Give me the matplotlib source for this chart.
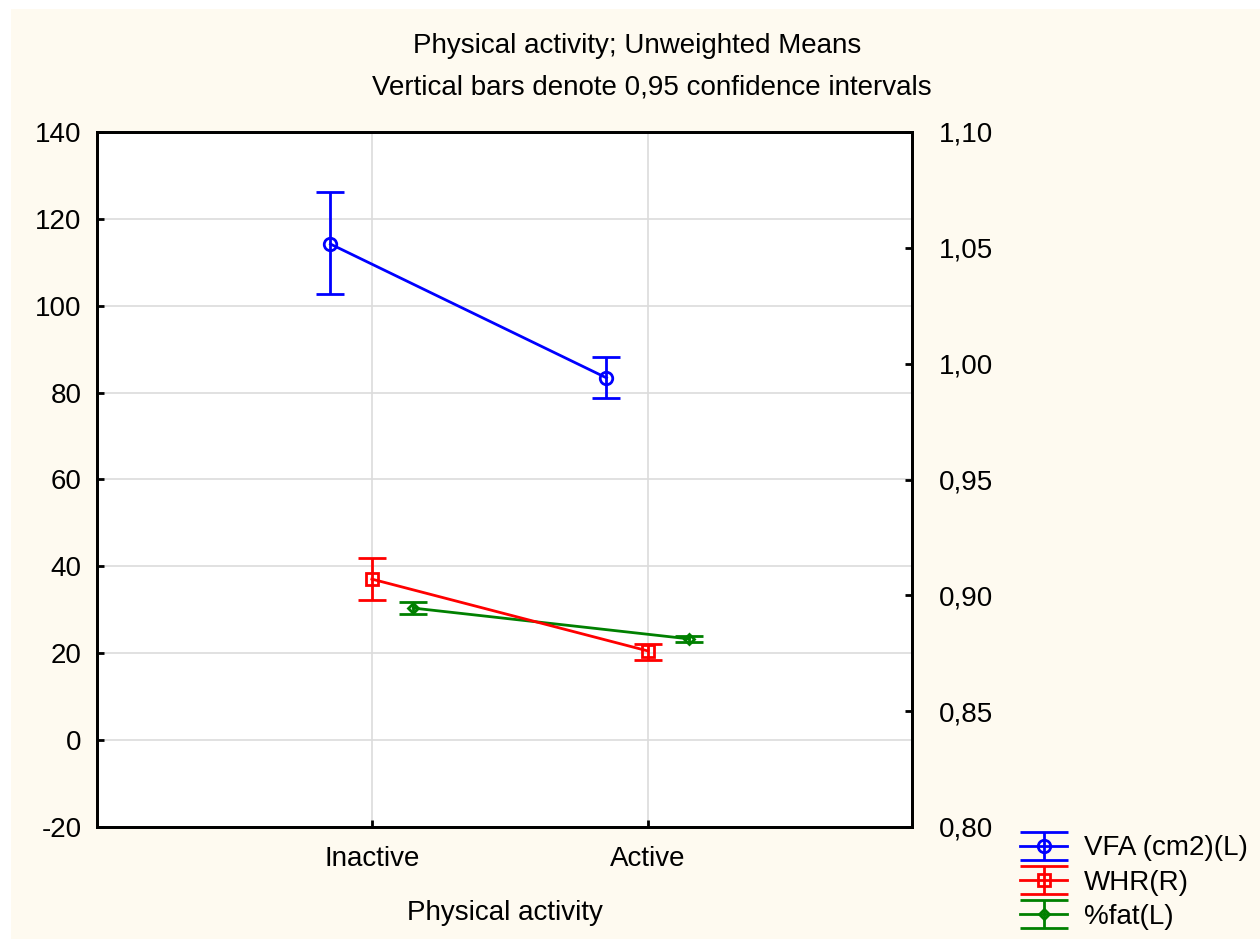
import matplotlib
matplotlib.use("Agg")
from matplotlib import pyplot as plt
from matplotlib.patches import Rectangle
from matplotlib.lines import Line2D
import numpy as np

plt.rcParams['font.family'] = ['Liberation Sans', 'DejaVu Sans']

categories = ['Inactive', 'Active']

vfa_mean = [114.2, 83.4]
vfa_low = [102.7, 78.8]
vfa_high = [126.2, 88.2]

whr_mean = [0.907, 0.876]
whr_low = [0.898, 0.872]
whr_high = [0.916, 0.879]

fat_mean = [30.4, 23.3]
fat_low = [29.0, 22.6]
fat_high = [31.8, 24.0]

left_ticks = [-20, 0, 20, 40, 60, 80, 100, 120, 140]
right_ticks = [0.80, 0.85, 0.90, 0.95, 1.00, 1.05, 1.10]

bg = '#FEFAF0'
fig = plt.figure(figsize=(12.6, 9.39), dpi=100, facecolor='white')
fig.patches.append(Rectangle((11 / 1260, 0), 1, 1 - 9 / 939, transform=fig.transFigure,
                             facecolor=bg, edgecolor='none', zorder=-10))

ax = fig.add_axes([97 / 1260, 1 - 827 / 939, (912 - 97) / 1260, (827 - 132) / 939])
ax.set_facecolor('white')
ax2 = ax.twinx()

x = np.arange(len(categories))
fs = 20

def draw(a, xs, mean, low, high, color, marker, label, ms):
    mean = np.array(mean)
    err = [mean - np.array(low), np.array(high) - mean]
    return a.errorbar(xs, mean, yerr=err, color=color, marker=marker, ms=ms, mfc='none',
                      mew=2, lw=2, elinewidth=2, capsize=10, capthick=2, label=label,
                      clip_on=False)

h1 = draw(ax, x - 0.15, vfa_mean, vfa_low, vfa_high, '#0000FF', 'o', 'VFA (cm2)(L)', 9)
h3 = draw(ax, x + 0.15, fat_mean, fat_low, fat_high, '#008000', 'D', '%fat(L)', 5)
h2 = draw(ax2, x, whr_mean, whr_low, whr_high, '#FF0000', 's', 'WHR(R)', 8)

ax.set_xlim(-0.996, 1.957)
ax.set_ylim(-20, 140)
ax2.set_ylim(0.80, 1.10)
ax.set_xticks(x)
ax.set_xticklabels(categories)
ax.set_yticks(left_ticks)
ax.set_yticklabels([str(t) for t in left_ticks])
ax2.set_yticks(right_ticks)
ax2.set_yticklabels([f'{t:.2f}'.replace('.', ',') for t in right_ticks])

ax.grid(True, color='#DCDCDC', lw=1.2)
ax.set_axisbelow(True)
for a in (ax, ax2):
    for s in a.spines.values():
        s.set_linewidth(2)
    a.tick_params(direction='in', length=5, width=2, labelsize=fs)
ax.tick_params(axis='y', pad=11)
ax2.tick_params(axis='y', pad=19)
ax.tick_params(axis='x', pad=14)

ax.set_xlabel('Physical activity', fontsize=fs, labelpad=20)

fig.text(0.506, 1 - 46 / 939, 'Physical activity; Unweighted Means', ha='center', va='center', fontsize=fs)
fig.text(0.517, 1 - 88 / 939, 'Vertical bars denote 0,95 confidence intervals', ha='center', va='center', fontsize=fs)

leg = fig.legend([h1, h2, h3], ['VFA (cm2)(L)', 'WHR(R)', '%fat(L)'], loc='lower left',
                 bbox_to_anchor=(1020 / 1260, 9 / 939), frameon=False, fontsize=fs,
                 borderpad=0, borderaxespad=0, handlelength=1.7, handletextpad=0.6,
                 labelspacing=0.3)
# wide caps in the legend handles, as in the original
for ln in leg.findobj(Line2D):
    if ln.get_marker() == '_':
        ln.set_markersize(fs * 1.7)

fig.savefig('out.png', dpi=100, facecolor='white')
